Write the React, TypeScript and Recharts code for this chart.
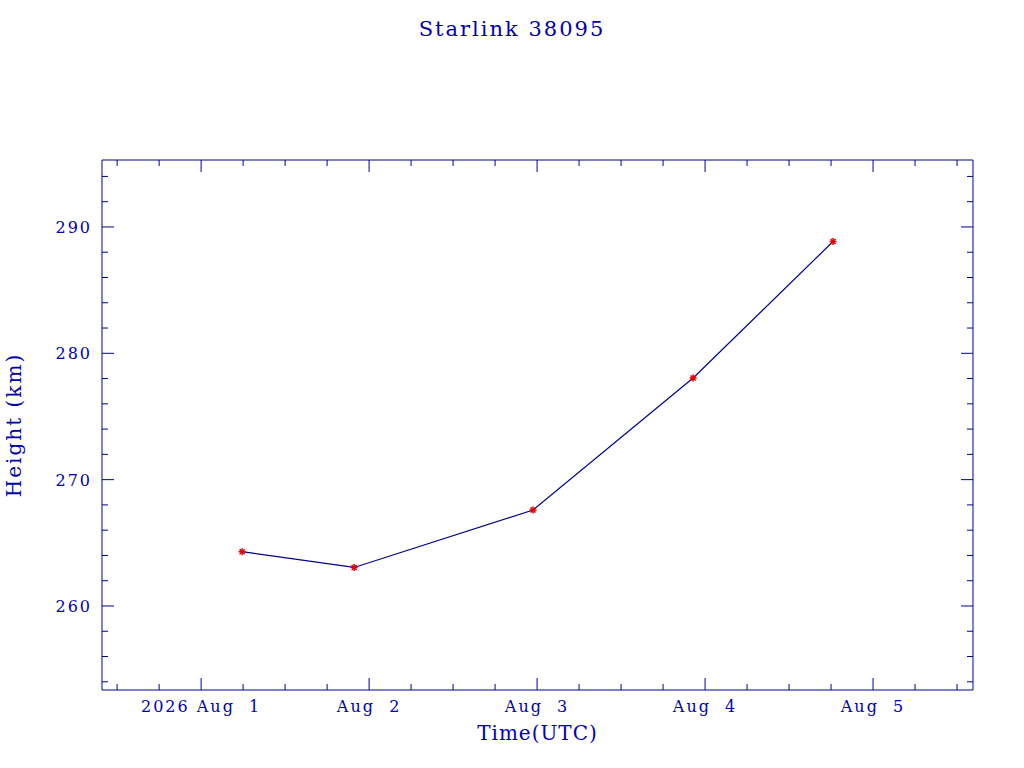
import { Line, LineChart, XAxis, YAxis } from "recharts";

// days since 2026 Aug 1 00:00 UTC
const times = [0.244, 0.911, 1.976, 2.929, 3.762];
const heights = [264.3, 263.05, 267.6, 278.05, 288.85];

const dayTicks = [0, 1, 2, 3, 4];
const dayLabels = ["2026 Aug  1", "Aug  2", "Aug  3", "Aug  4", "Aug  5"];
const heightTicks = [260, 270, 280, 290];

const data = times.map((t, i) => ({ t, h: heights[i] }));

const xTicks: number[] = [];
for (let q = -2; q <= 18; q++) xTicks.push(q / 4);
const yTicks: number[] = [];
for (let v = 254; v <= 294; v += 2) yTicks.push(v);

const BLUE = "#0000b0";
const AXIS = "#00009a";
const FONT = "'DejaVu Serif', serif";

const BottomTick = (props: any) => {
  const { x, y, payload } = props;
  const v = payload.value;
  const i = dayTicks.indexOf(v);
  const major = i >= 0;
  return (
    <g>
      <line x1={x} y1={y} x2={x} y2={y - (major ? 12 : 6)} stroke={AXIS} />
      {major && (
        <text
          x={x}
          y={y + 22}
          textAnchor="middle"
          fill={BLUE}
          fontSize={16}
          fontFamily={FONT}
          letterSpacing={2}
          style={{ whiteSpace: "pre" }}
        >
          {dayLabels[i]}
        </text>
      )}
    </g>
  );
};

const TopTick = (props: any) => {
  const { x, y, payload } = props;
  const major = dayTicks.includes(payload.value);
  return <line x1={x} y1={y} x2={x} y2={y + (major ? 12 : 6)} stroke={AXIS} />;
};

const LeftTick = (props: any) => {
  const { x, y, payload } = props;
  const major = heightTicks.includes(payload.value);
  return (
    <g>
      <line x1={x} y1={y} x2={x + (major ? 12 : 6)} y2={y} stroke={AXIS} />
      {major && (
        <text
          x={x - 10}
          y={y + 6}
          textAnchor="end"
          fill={BLUE}
          fontSize={16}
          fontFamily={FONT}
          letterSpacing={2}
        >
          {payload.value}
        </text>
      )}
    </g>
  );
};

const RightTick = (props: any) => {
  const { x, y, payload } = props;
  const major = heightTicks.includes(payload.value);
  return <line x1={x} y1={y} x2={x - (major ? 12 : 6)} y2={y} stroke={AXIS} />;
};

const StarDot = (props: any) => {
  const { cx, cy } = props;
  if (cx == null || cy == null) return null;
  const r = 3.5;
  const d = 2.5;
  return (
    <g stroke="#e00000" strokeWidth={1.5}>
      <line x1={cx - r} y1={cy} x2={cx + r} y2={cy} />
      <line x1={cx} y1={cy - r} x2={cx} y2={cy + r} />
      <line x1={cx - d} y1={cy - d} x2={cx + d} y2={cy + d} />
      <line x1={cx - d} y1={cy + d} x2={cx + d} y2={cy - d} />
    </g>
  );
};

const App = () => {
  return (
    <div style={{ position: "absolute", left: 0, top: 0, width: 1024, height: 768, background: "#fff" }}>
      <div
        style={{
          position: "absolute",
          top: 17,
          width: 1024,
          textAlign: "center",
          color: BLUE,
          fontFamily: FONT,
          fontSize: 21,
          letterSpacing: 2,
        }}
      >
        Starlink 38095
      </div>
      <LineChart width={1024} height={768} data={data} margin={{ top: 159, right: 50, bottom: 0, left: 0 }}>
        <XAxis
          dataKey="t"
          type="number"
          domain={[-0.59, 4.595]}
          ticks={xTicks}
          allowDataOverflow
          height={78}
          tickSize={0}
          tickMargin={0}
          tickLine={false}
          interval={0}
          stroke={AXIS}
          tick={<BottomTick />}
          label={{
            value: "Time(UTC)",
            position: "insideBottom",
            offset: 28,
            fill: BLUE,
            fontSize: 20,
            fontFamily: FONT,
            letterSpacing: 1,
          }}
        />
        <XAxis
          xAxisId="top"
          dataKey="t"
          type="number"
          orientation="top"
          domain={[-0.59, 4.595]}
          ticks={xTicks}
          allowDataOverflow
          height={1}
          tickSize={0}
          tickMargin={0}
          tickLine={false}
          interval={0}
          stroke={AXIS}
          tick={<TopTick />}
        />
        <YAxis
          type="number"
          domain={[253.35, 295.3]}
          ticks={yTicks}
          allowDataOverflow
          width={102}
          tickSize={0}
          tickMargin={0}
          tickLine={false}
          interval={0}
          stroke={AXIS}
          tick={<LeftTick />}
          label={{
            value: "Height (km)",
            angle: -90,
            position: "insideLeft",
            offset: 14,
            fill: BLUE,
            fontSize: 20,
            fontFamily: FONT,
            letterSpacing: 2,
            style: { textAnchor: "middle" },
          }}
        />
        <YAxis
          yAxisId="right"
          type="number"
          orientation="right"
          domain={[253.35, 295.3]}
          ticks={yTicks}
          allowDataOverflow
          width={1}
          tickSize={0}
          tickMargin={0}
          tickLine={false}
          interval={0}
          stroke={AXIS}
          tick={<RightTick />}
        />
        <Line
          xAxisId="top"
          yAxisId="right"
          dataKey="h"
          stroke="none"
          dot={false}
          activeDot={false}
          isAnimationActive={false}
        />
        <Line
          dataKey="h"
          type="linear"
          stroke="#00008b"
          strokeWidth={1.2}
          dot={<StarDot />}
          activeDot={false}
          isAnimationActive={false}
        />
      </LineChart>
    </div>
  );
};

export default App;
